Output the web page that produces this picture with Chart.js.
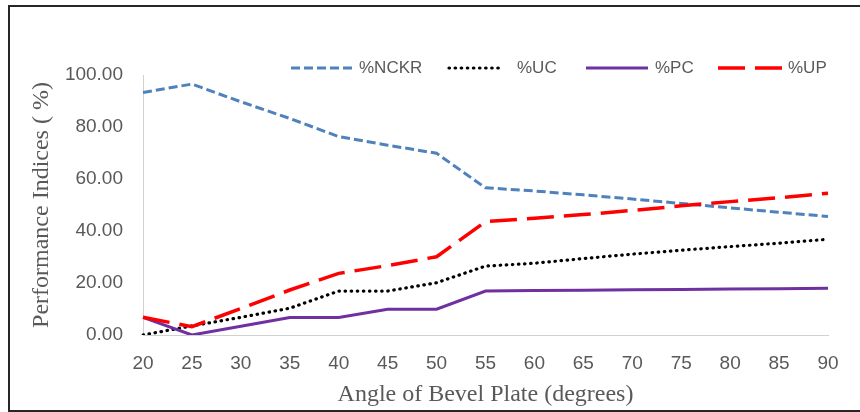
<!DOCTYPE html>
<html>
<head>
<meta charset="utf-8">
<script src="https://cdn.jsdelivr.net/npm/chart.js@4/dist/chart.umd.min.js"></script>
<style>
  html, body { margin: 0; padding: 0; background: #fff; overflow: hidden; }
  #wrap { position: relative; width: 860px; height: 412px; }
  #c { position: absolute; left: 0; top: 0; }
  #frame { position: absolute; left: 8px; top: 5px; width: 900px; height: 403px;
           border: 2px solid #262626; border-right: none; pointer-events: none; }
</style>
</head>
<body>
<div id="wrap">
  <canvas id="c" width="860" height="412"></canvas>
  <div id="frame"></div>
</div>
<script>
// ---- data ----
const angles = ['20','25','30','35','40','45','50','55','60','65','70','75','80','85','90'];
const seriesNames = ['%NCKR', '%UC', '%PC', '%UP'];
const nckr = [93.3, 96.5, 89.7, 83.3, 76.3, 73.0, 69.9, 56.6, 55.4, 53.9, 52.3, 50.6, 48.9, 47.2, 45.6];
const uc   = [0.0, 3.5, 6.8, 10.3, 16.9, 16.9, 20.1, 26.5, 27.6, 29.4, 31.1, 32.6, 34.0, 35.3, 36.8];
const pc   = [6.8, 0.0, 3.4, 6.7, 6.7, 9.9, 9.9, 16.9, 17.1, 17.2, 17.4, 17.5, 17.7, 17.8, 18.0];
const up   = [6.8, 3.2, 10.2, 17.3, 23.7, 26.7, 30.1, 43.6, 44.9, 46.3, 47.9, 49.7, 51.3, 52.8, 54.5];
const yTicks = [0, 20, 40, 60, 80, 100];
const xTitle = 'Angle of Bevel Plate (degrees)';
const yTitle = 'Performance Indices ( %)';

const grey = '#595959';
const sans = "'Liberation Sans', Arial, sans-serif";
const serif = "'Liberation Serif', 'Times New Roman', serif";

const legendPlugin = {
  id: 'excelLegend',
  afterDraw(chart) {
    const ctx = chart.ctx;
    const spots = [
      { x0: 291, x1: 354, tx: 359 },
      { x0: 449, x1: 500, tx: 517 },
      { x0: 586, x1: 648, tx: 655 },
      { x0: 718, x1: 782, tx: 788 }
    ];
    const y = 68;
    ctx.save();
    chart.data.datasets.forEach((ds, i) => {
      const s = spots[i];
      ctx.beginPath();
      ctx.strokeStyle = ds.borderColor;
      ctx.lineWidth = ds.borderWidth;
      ctx.lineCap = ds.borderCapStyle || 'butt';
      ctx.setLineDash(ds.borderDash || []);
      ctx.moveTo(s.x0, y);
      ctx.lineTo(s.x1, y);
      ctx.stroke();
      ctx.setLineDash([]);
      ctx.fillStyle = grey;
      ctx.font = "17px " + sans;
      ctx.textAlign = 'left';
      ctx.textBaseline = 'middle';
      ctx.fillText(ds.label, s.tx, y + 0.5);
    });
    ctx.restore();
  }
};

new Chart(document.getElementById('c'), {
  type: 'line',
  data: {
    labels: angles,
    datasets: [
      { label: seriesNames[0], data: nckr, borderColor: '#4f81bd', borderWidth: 3,
        borderDash: [9, 4], borderCapStyle: 'butt', order: 4 },
      { label: seriesNames[1], data: uc, borderColor: '#000000', borderWidth: 3.2,
        borderDash: [0.5, 5.6], borderCapStyle: 'round', order: 3 },
      { label: seriesNames[2], data: pc, borderColor: '#7030a0', borderWidth: 3,
        borderCapStyle: 'butt', order: 2 },
      { label: seriesNames[3], data: up, borderColor: '#ff0000', borderWidth: 3.5,
        borderDash: [27, 10], borderCapStyle: 'butt', order: 1 }
    ]
  },
  options: {
    responsive: false,
    animation: false,
    devicePixelRatio: 1,
    elements: { point: { radius: 0, hoverRadius: 0 }, line: { tension: 0, fill: false } },
    layout: { padding: { left: 0, top: 75, right: 32, bottom: 0 } },
    plugins: { legend: { display: false }, tooltip: { enabled: false } },
    scales: {
      x: {
        grid: { display: false, drawTicks: false },
        border: { display: true, color: '#d0d0d0', width: 1 },
        ticks: { color: grey, font: { family: sans, size: 19 }, padding: 17,
                 maxRotation: 0, autoSkip: false },
        title: { display: true, text: xTitle, color: grey,
                 font: { family: serif, size: 24 }, padding: { top: 0, bottom: 3 } },
        afterFit: (s) => { s.height = 77; }
      },
      y: {
        min: 0, max: 100,
        afterBuildTicks: (s) => { s.ticks = yTicks.map(v => ({ value: v })); },
        grid: { display: false, drawTicks: false },
        border: { display: true, color: '#d0d0d0', width: 1 },
        ticks: { color: grey, font: { family: sans, size: 19 }, padding: 20,
                 callback: (v) => Number(v).toFixed(2) },
        title: { display: true, text: yTitle, color: grey,
                 font: { family: serif, size: 24 }, padding: { top: 27, bottom: 0 } },
        afterFit: (s) => { s.width = 143; }
      }
    }
  },
  plugins: [legendPlugin]
});
</script>
</body>
</html>
